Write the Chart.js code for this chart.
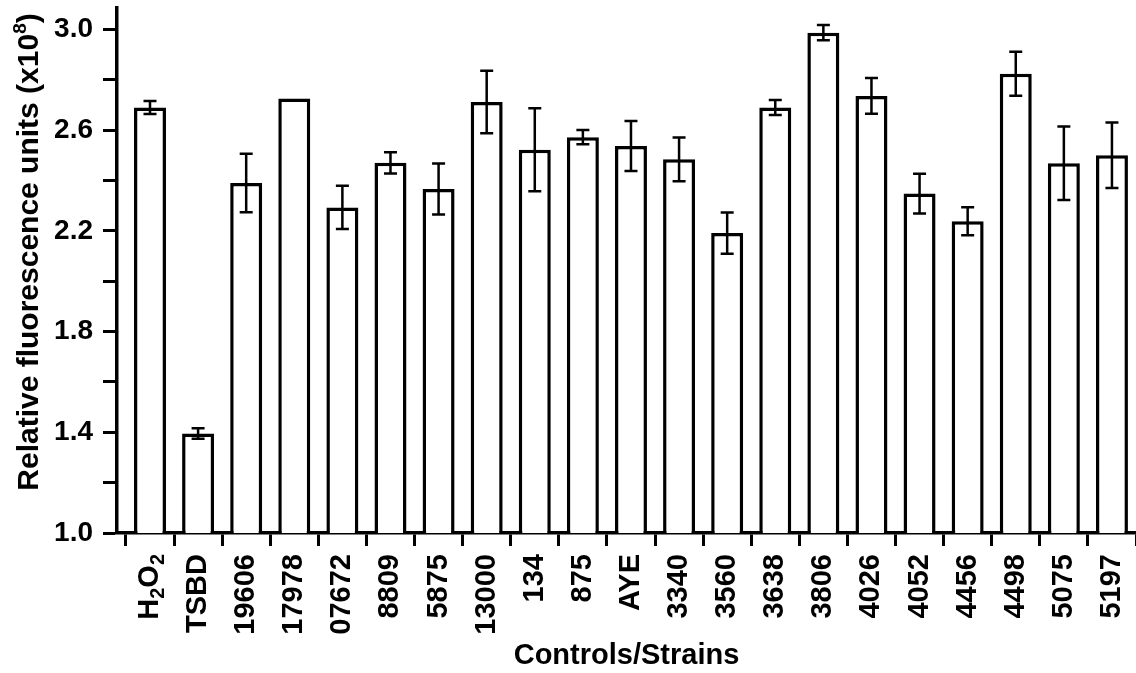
<!DOCTYPE html>
<html>
<head>
<meta charset="utf-8">
<script src="https://cdn.jsdelivr.net/npm/chart.js@4/dist/chart.umd.min.js"></script>
<style>
  html, body { margin: 0; padding: 0; background: #fff; }
  #wrap { width: 1136px; height: 673px; position: relative; }
</style>
</head>
<body>
<div id="wrap"><canvas id="c"></canvas></div>
<script>
const categories = ['H2O2', 'TSBD', '19606', '17978', '07672', '8809', '5875', '13000', '134', '875', 'AYE', '3340', '3560', '3638', '3806', '4026', '4052', '4456', '4498', '5075', '5197'];
const means = [2.690, 1.395, 2.390, 2.726, 2.293, 2.470, 2.366, 2.712, 2.522, 2.572, 2.537, 2.484, 2.191, 2.690, 2.987, 2.736, 2.348, 2.238, 2.824, 2.468, 2.500];
const errors = [0.026, 0.021, 0.116, 0, 0.086, 0.042, 0.101, 0.124, 0.165, 0.028, 0.099, 0.087, 0.082, 0.030, 0.030, 0.071, 0.079, 0.056, 0.087, 0.146, 0.130];
const yTickValues = [1.0, 1.2, 1.4, 1.6, 1.8, 2.0, 2.2, 2.4, 2.6, 2.8, 3.0];
const yTickLabels = ['1.0', '', '1.4', '', '1.8', '', '2.2', '', '2.6', '', '3.0'];
// first category label drawn with real subscripts: H, 2, O, 2
const firstLabelParts = [['H', false], ['2', true], ['O', false], ['2', true]];
const yTitle = 'Relative fluorescence units (x10';
const yTitleSup = '8';
const yTitleEnd = ')';
const xTitle = 'Controls/Strains';

const FONT = "'Liberation Sans', Arial, Helvetica, sans-serif";
const TICK_FONT_SIZE = 29;
const X_TICK_LEN = 13;
const X_TICK_PAD = 8;

const errorBars = {
  id: 'errorBars',
  afterDatasetsDraw(chart) {
    const xs = chart.scales.x, ys = chart.scales.y;
    const ctx = chart.ctx;
    ctx.save();
    ctx.strokeStyle = '#000';
    ctx.lineWidth = 2.5;
    ctx.lineCap = 'butt';
    means.forEach((m, i) => {
      const e = errors[i];
      if (!e) return;
      const x = xs.getPixelForValue(i);
      const yt = ys.getPixelForValue(m + e);
      const yb = ys.getPixelForValue(m - e);
      const hw = 6.5;
      ctx.beginPath();
      ctx.moveTo(x, yt); ctx.lineTo(x, yb);
      ctx.moveTo(x - hw, yt); ctx.lineTo(x + hw, yt);
      ctx.moveTo(x - hw, yb); ctx.lineTo(x + hw, yb);
      ctx.stroke();
    });
    ctx.restore();
  }
};

const textPlugin = {
  id: 'textPlugin',
  afterDraw(chart) {
    const ctx = chart.ctx;
    // y-axis title with superscript
    ctx.save();
    ctx.fillStyle = '#000';
    ctx.textBaseline = 'alphabetic';
    ctx.textAlign = 'left';
    const mainFont = 'bold 30px ' + FONT;
    const supFont = 'bold 19px ' + FONT;
    ctx.font = mainFont;
    const w1 = ctx.measureText(yTitle).width;
    const w3 = ctx.measureText(yTitleEnd).width;
    ctx.font = supFont;
    const w2 = ctx.measureText(yTitleSup).width;
    const total = w1 + w2 + w3;
    ctx.translate(38, 252);
    ctx.rotate(-Math.PI / 2);
    let x = -total / 2;
    ctx.font = mainFont;
    ctx.fillText(yTitle, x, 0);
    x += w1;
    ctx.font = supFont;
    ctx.fillText(yTitleSup, x, -12);
    x += w2;
    ctx.font = mainFont;
    ctx.fillText(yTitleEnd, x, 0);
    ctx.restore();

    // first x tick label with subscripts
    const xs = chart.scales.x;
    const mf = 'bold ' + TICK_FONT_SIZE + 'px ' + FONT;
    const sf = 'bold 20px ' + FONT;
    ctx.save();
    ctx.fillStyle = '#000';
    ctx.textAlign = 'left';
    ctx.textBaseline = 'middle';
    let tot = 0;
    const widths = firstLabelParts.map(([t, sub]) => { ctx.font = sub ? sf : mf; const w = ctx.measureText(t).width; tot += w; return w; });
    ctx.translate(xs.getPixelForValue(0), xs.top + X_TICK_LEN + X_TICK_PAD);
    ctx.rotate(-Math.PI / 2);
    let px = -tot;
    firstLabelParts.forEach(([t, sub], k) => {
      ctx.font = sub ? sf : mf;
      ctx.fillText(t, px, sub ? 8 : 0);
      px += widths[k];
    });
    ctx.restore();
  }
};

new Chart(document.getElementById('c'), {
  type: 'bar',
  data: {
    datasets: [{
      data: means.map((v, i) => ({ x: i, y: v })),
      backgroundColor: '#fff',
      borderColor: '#000',
      borderWidth: 3.5,
      borderSkipped: 'start',
      barPercentage: 0.665,
      categoryPercentage: 1.0
    }]
  },
  options: {
    responsive: true,
    maintainAspectRatio: false,
    animation: false,
    devicePixelRatio: 1,
    layout: { padding: { top: 8, left: 0, right: 0, bottom: 0 } },
    plugins: { legend: { display: false }, tooltip: { enabled: false }, title: { display: false } },
    scales: {
      x: {
        type: 'linear',
        min: -0.686,
        max: 20.5,
        offset: false,
        afterBuildTicks(axis) { axis.ticks = categories.map((_, i) => ({ value: i })); },
        afterFit(axis) { axis.height = 140; axis.paddingLeft = 0; axis.paddingRight = 0; },
        ticks: {
          autoSkip: false,
          minRotation: 90,
          maxRotation: 90,
          padding: X_TICK_PAD,
          color: '#000',
          font: { family: FONT, size: TICK_FONT_SIZE, weight: 'bold' },
          callback: (v) => (v === 0 ? '' : categories[v])
        },
        grid: { display: true, drawOnChartArea: false, drawTicks: true, tickLength: X_TICK_LEN, tickWidth: 3, tickColor: '#000' },
        border: { display: true, color: '#000', width: 3.5 },
        title: {
          display: true,
          text: xTitle,
          color: '#000',
          font: { family: FONT, size: 29, weight: 'bold' },
          padding: { top: 0, bottom: 0 }
        }
      },
      y: {
        min: 1.0,
        max: 3.085,
        afterBuildTicks(axis) { axis.ticks = yTickValues.map(v => ({ value: v })); },
        afterFit(axis) { axis.width = 117; axis.paddingTop = 0; axis.paddingBottom = 0; },
        ticks: {
          padding: 10,
          color: '#000',
          font: { family: FONT, size: 28, weight: 'bold' },
          callback: (v, i) => yTickLabels[i]
        },
        grid: { display: true, drawOnChartArea: false, drawTicks: true, tickLength: 14, tickWidth: 3, tickColor: '#000' },
        border: { display: true, color: '#000', width: 3.5 }
      }
    }
  },
  plugins: [errorBars, textPlugin]
});
</script>
</body>
</html>
